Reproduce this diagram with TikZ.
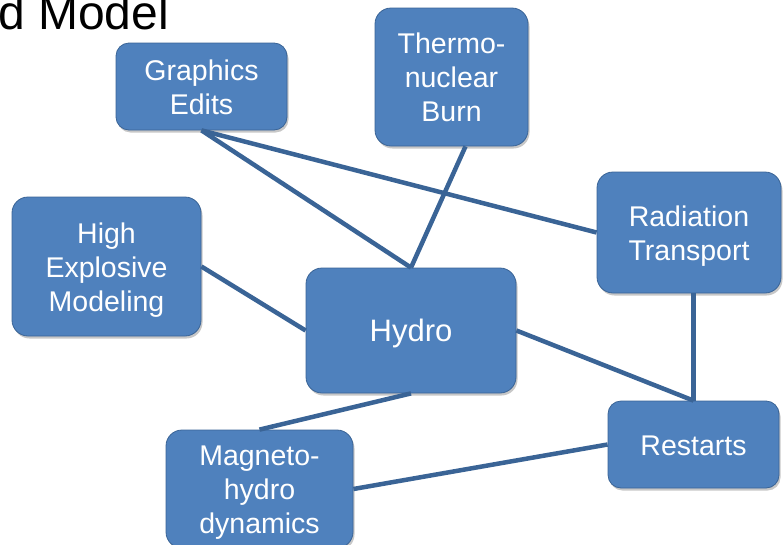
\documentclass[tikz,border=0pt]{standalone}
\usepackage{fontspec}
\setmainfont{Liberation Sans}
\usetikzlibrary{shadows}
\definecolor{boxfill}{HTML}{4F81BD}
\definecolor{boxline}{HTML}{3A6496}
\definecolor{linkcol}{HTML}{3A6496}
% uniform line box: 27.5pt above the baseline, 6.5pt below
\newcommand\lnstrut{\rule[-6.5pt]{0pt}{34pt}}
\tikzset{
  topic/.style={draw=boxline, line width=0.8pt, fill=boxfill, text=white,
    rounded corners=16pt, align=center, inner sep=0pt,
    font=\fontsize{28.5}{34}\selectfont,
    drop shadow={shadow xshift=1.5pt, shadow yshift=-2.5pt, opacity=0.22, fill=black}},
  link/.style={draw=linkcol, line width=4.5pt}
}
\begin{document}
\begin{tikzpicture}[x=1pt,y=-1pt]
  \useasboundingbox (0,0) rectangle (784,544);
  \clip (0,0) rectangle (784,544);

  % heading, running off the left edge
  \node[anchor=base east, inner sep=0pt, font=\fontsize{48}{52}\selectfont] (title) at (169,29) {d Model};

  % topic boxes
  \node[topic, minimum width=171pt, minimum height=87pt, rounded corners=13pt] (ge) at (201.5,86.5)
    {\lnstrut Graphics\\\lnstrut Edits};
  \node[topic, minimum width=153pt, minimum height=138pt] (tn) at (451.5,77)
    {\lnstrut Thermo-\\\lnstrut nuclear\\\lnstrut Burn};
  \node[topic, minimum width=189pt, minimum height=139pt] (he) at (106.5,266.5)
    {\lnstrut High\\\lnstrut Explosive\\\lnstrut Modeling};
  \node[topic, minimum width=184pt, minimum height=121pt] (rt) at (689,232.5)
    {\lnstrut Radiation\\\lnstrut Transport};
  \node[topic, minimum width=210pt, minimum height=125pt, font=\fontsize{31}{34}\selectfont] (hy) at (411,330.5)
    {\lnstrut Hydro};
  \node[topic, minimum width=171pt, minimum height=87pt, rounded corners=13pt] (rs) at (693.5,444.5)
    {\lnstrut Restarts};
  \node[topic, minimum width=187pt, minimum height=118pt] (mg) at (259.5,489)
    {\lnstrut Magneto-\\\lnstrut hydro\\\lnstrut dynamics};

  % connectors
  \draw[link] (ge.south) -- (hy.north);
  \draw[link] (ge.south) -- (rt.west);
  \draw[link] ([xshift=14pt]tn.south) -- (hy.north);
  \draw[link] (he.east) -- (hy.west);
  \draw[link] (hy.east) -- (rs.north);
  \draw[link] (rt.south -| rs.north) -- (rs.north);
  \draw[link] (hy.south) -- (mg.north);
  \draw[link] (mg.east) -- (rs.west);
\end{tikzpicture}
\end{document}
